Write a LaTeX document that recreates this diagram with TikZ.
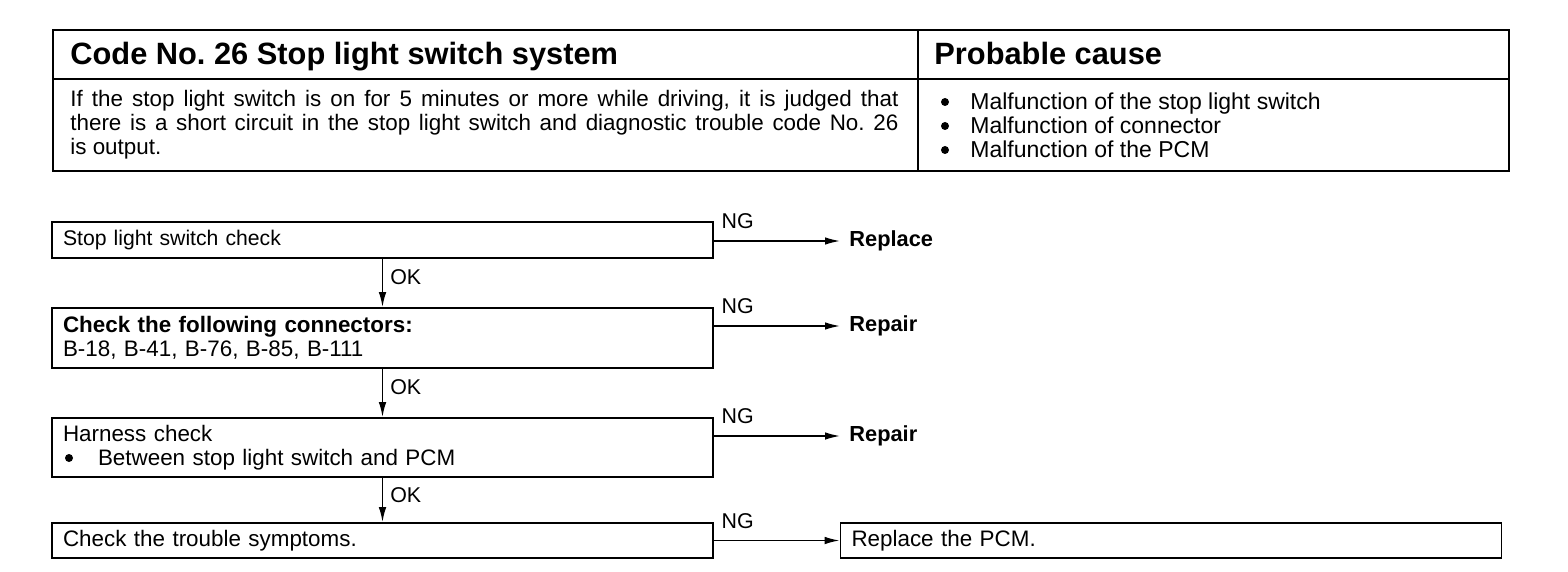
\documentclass[tikz,border=0pt]{standalone}
\usepackage{fontspec}
\setmainfont{Liberation Sans}
\usetikzlibrary{arrows.meta,positioning}

\begin{document}
\frenchspacing
\begin{tikzpicture}[x=0.5pt,y=-0.5pt,>={Latex[length=7.5pt,width=3.8pt]},
  font=\fontsize{11.2}{12}\selectfont,
  chkbox/.style={draw,line width=0.9pt,text width=319.5pt,inner xsep=5.5pt,inner ysep=0pt,align=left},
  result/.style={anchor=west,inner xsep=4.5pt,font=\fontsize{10.9}{12}\selectfont\bfseries},
  head/.style={anchor=base west,inner sep=0,font=\fontsize{15.4}{18}\selectfont\bfseries},
  ng/.style={pos=0,anchor=south west,inner xsep=3.5pt,inner ysep=5.5pt,font=\fontsize{10.7}{12}\selectfont},
  ok/.style={pos=0.38,anchor=west,inner xsep=3.5pt,font=\fontsize{10.7}{12}\selectfont},
  conn/.style={->,line width=0.8pt}]
\useasboundingbox (0,0) rectangle (1568,572);
% table
\draw[line width=1pt] (53,30) rectangle (1509,171);
\draw[line width=1pt] (53,79) -- (1509,79);
\draw[line width=1pt] (918,30) -- (918,171);
\node[head] (code) at (70,65) {Code No. 26 Stop light switch system};
\node[head] (cause) at (934,65) {Probable cause};
\node[anchor=west,inner sep=0,text width=414pt,align=justify] (desc) at (70,125)
  {If the stop light switch is on for 5 minutes or more while driving, it is judged that\linebreak
   there is a short circuit in the stop light switch and diagnostic trouble code No. 26\linebreak
   is output.};
\node[anchor=west,inner sep=0,align=left,font=\fontsize{11.5}{12}\selectfont] (list) at (970,125)
  {Malfunction of the stop light switch\\
   Malfunction of connector\\
   Malfunction of the PCM};
\foreach \y in {102,126,150}
  \fill (945,\y) circle (4);
% flow
\node[chkbox,minimum height=18pt,font=\fontsize{10.6}{12}\selectfont] (swchk) at (382.5,240) {Stop light switch check};
\node[chkbox,minimum height=30pt] (conchk) at (382.5,338)
  {\textbf{Check the following connectors:}\\B-18, B-41, B-76, B-85, B-111};
\node[chkbox,minimum height=29.5pt] (harchk) at (382.5,447.5)
  {Harness check\\\hspace*{17.5pt}Between stop light switch and PCM};
\fill (69,458) circle (4);
\node[chkbox,minimum height=17.5pt] (symchk) at (382.5,540.5) {Check the trouble symptoms.};
\node[chkbox,minimum height=17.5pt] (pcm) at (1171,540.5) {Replace the PCM.};
\node[result] (rep1) at (840,241) {Replace};
\node[result] (rep2) at (840,326) {Repair};
\node[result] (rep3) at (840,436) {Repair};
\draw[conn] (swchk.east |- rep1.west) -- node[ng]{NG} (rep1.west);
\draw[conn] (conchk.east |- rep2.west) -- node[ng]{NG} (rep2.west);
\draw[conn] (harchk.east |- rep3.west) -- node[ng]{NG} (rep3.west);
\draw[conn] (symchk.east) -- node[ng]{NG} (pcm.west);
\draw[conn] (swchk.south) -- node[ok]{OK} (conchk.north);
\draw[conn] (conchk.south) -- node[ok]{OK} (harchk.north);
\draw[conn] (harchk.south) -- node[ok]{OK} (symchk.north);
\end{tikzpicture}
\end{document}
